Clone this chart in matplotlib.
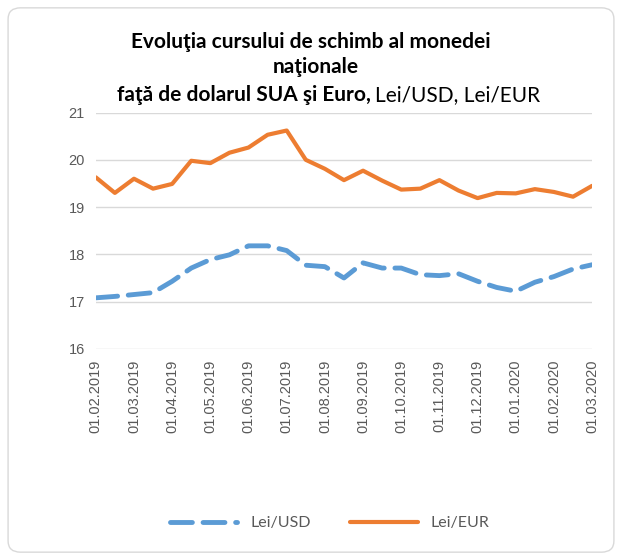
import matplotlib
matplotlib.use("Agg")
import matplotlib.pyplot as plt
from matplotlib.patches import FancyBboxPatch

# date de la 01.02.2019 pana la 01.03.2020, la fiecare jumatate de luna
luni = ["01.02.2019", "01.03.2019", "01.04.2019", "01.05.2019", "01.06.2019",
        "01.07.2019", "01.08.2019", "01.09.2019", "01.10.2019", "01.11.2019",
        "01.12.2019", "01.01.2020", "01.02.2020", "01.03.2020"]

lei_usd = [17.08, 17.11, 17.15, 17.19, 17.43, 17.71, 17.89, 17.99, 18.18, 18.18,
           18.08, 17.77, 17.74, 17.50, 17.82, 17.71, 17.71, 17.57, 17.55, 17.59,
           17.43, 17.30, 17.22, 17.41, 17.53, 17.69, 17.78]

lei_eur = [19.63, 19.30, 19.60, 19.39, 19.49, 19.98, 19.93, 20.15, 20.26, 20.53,
           20.62, 20.00, 19.81, 19.57, 19.77, 19.56, 19.37, 19.39, 19.57, 19.35,
           19.19, 19.30, 19.29, 19.38, 19.32, 19.22, 19.45]

x = list(range(len(lei_eur)))

fig = plt.figure(figsize=(6.22, 5.6), dpi=100)
ax = fig.add_axes([0.154, 0.377, 0.798, 0.422])

ax.plot(x, lei_usd, color="#5B9BD5", lw=3.5, linestyle=(0, (4.5, 2.2)),
        dash_capstyle="round", solid_capstyle="round", label="Lei/USD")
ax.plot(x, lei_eur, color="#ED7D31", lw=3, solid_joinstyle="round",
        solid_capstyle="round", label="Lei/EUR")

ax.set_ylim(16, 21)
ax.set_xlim(0, len(x) - 1)
ax.set_yticks([16, 17, 18, 19, 20, 21])
ax.set_xticks(x[::2])
ax.set_xticklabels(luni, rotation=90)
ax.grid(axis="y", color="#D9D9D9", lw=1)
ax.set_axisbelow(True)
for s in ax.spines.values():
    s.set_visible(False)
ax.tick_params(length=0, labelsize=10.5, labelcolor="#595959", pad=8)
for t in ax.get_xticklabels() + ax.get_yticklabels():
    t.set_family("Liberation Sans")

# titlu
fig.text(0.500, 0.925, "Evoluţia cursului de schimb al monedei", ha="center",
         va="center", fontsize=15, fontweight="bold", family="Lato")
fig.text(0.507, 0.880, "naţionale", ha="center", va="center",
         fontsize=15, fontweight="bold", family="Lato")
fig.text(0.596, 0.830, "faţă de dolarul SUA şi Euro,", ha="right",
         va="center", fontsize=15, fontweight="bold", family="Lato")
fig.text(0.603, 0.830, "Lei/USD, Lei/EUR", ha="left", va="center",
         fontsize=15, family="Lato")

leg = fig.legend(loc="center", bbox_to_anchor=(0.53, 0.066), ncol=2,
                 frameon=False, handlelength=4.2, columnspacing=2.5,
                 handletextpad=0.8, prop={"family": "Lato", "size": 11.5})
for t in leg.get_texts():
    t.set_color("#595959")

fig.patches.append(FancyBboxPatch((0.013, 0.014), 0.974, 0.972,
                                  boxstyle="round,pad=0,rounding_size=0.02",
                                  transform=fig.transFigure, fill=False,
                                  edgecolor="#D9D9D9", lw=1))

fig.savefig("out.png", dpi=100)
